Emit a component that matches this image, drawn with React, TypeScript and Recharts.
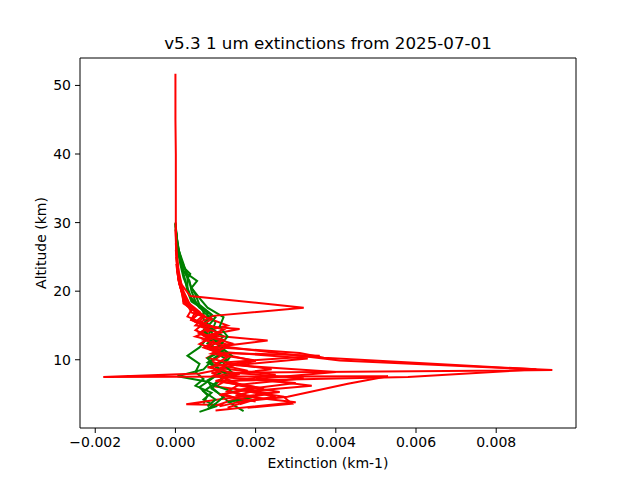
import { ReferenceLine, Scatter, ScatterChart, XAxis, YAxis } from "recharts";

const RED = "#ff0000";
const GREEN = "#008000";

// axis setup
const X_MIN = -0.00238;
const X_MAX = 0.00999;
const Y_MIN = 0.05;
const Y_MAX = 54.0;
const xTicks = [-0.002, 0, 0.002, 0.004, 0.006, 0.008];
const yTicks = [10, 20, 30, 40, 50];

// red profiles: altitude (km) / extinction (km-1)
const r1Alt = [51.7, 45, 40, 35, 30, 27, 25, 23, 21, 19.3, 17.6, 16.4, 15.4, 14.4, 13.4, 12.4, 11.4, 10.4, 9.4, 8.4, 7.4, 6.4, 5.4, 4.4, 3.5];
const r1Ext = [0, 0, 0.00001, 0.00001, 0.00001, 0.00002, 0.00004, 0.00008, 0.00015, 0.00037, 0.0032, 0.00094, 0.0006, 0.0012, 0.0008, 0.0014, 0.0009, 0.0013, 0.001, 0.0018, 0.0012, 0.0016, 0.0013, 0.0021, 0.0016];

const r2Alt = [30, 27, 24, 22, 20, 18.8, 17.6, 16.5, 15.5, 14.5, 13.5, 12.0, 9.9, 8.5, 8.1, 7.1, 6.1, 5.1, 4.1, 3.1];
const r2Ext = [0, 0.00002, 0.00005, 0.0001, 0.0002, 0.0003, 0.0004, 0.0007, 0.0005, 0.0009, 0.0007, 0.0011, 0.0041, 0.0094, 0.0009, 0.0013, 0.001, 0.0024, 0.0014, 0.0009];

const r3Alt = [29, 26, 23, 21, 19.5, 18.3, 17.2, 16.1, 15.0, 14.0, 13.0, 11.9, 11.0, 10.3, 8.6, 7.5, 6.9, 6.0, 5.0, 4.0, 3.2];
const r3Ext = [0, 0.00002, 0.00006, 0.00012, 0.0002, 0.0003, 0.0005, 0.0008, 0.0013, 0.0006, 0.001, 0.0008, 0.0031, 0.0037, 0.009, 0.0058, 0.0011, 0.0019, 0.0012, 0.0017, 0.0011];

const r4Alt = [27, 24, 21, 19, 17.8, 16.8, 15.8, 14.8, 13.8, 12.8, 11.8, 10.8, 9.8, 8.8, 8.0, 7.5, 7.6, 6.5, 4.6, 4.0, 3.0];
const r4Ext = [0.00001, 0.00004, 0.0001, 0.0002, 0.0003, 0.0006, 0.0004, 0.0008, 0.0006, 0.001, 0.0007, 0.0012, 0.0009, 0.0013, 0.0006, -0.0018, 0.0053, 0.0043, 0.0028, 0.0018, 0.0013];

const r5Alt = [25, 22, 20, 18.5, 17.3, 16.3, 15.3, 14.3, 13.3, 12.3, 11.3, 10.3, 9.3, 8.3, 7.3, 6.3, 5.3, 4.3, 3.5, 3.4];
const r5Ext = [0.00002, 0.00007, 0.00015, 0.0002, 0.0004, 0.0003, 0.0007, 0.0005, 0.0009, 0.0006, 0.0011, 0.0008, 0.0015, 0.001, 0.0032, 0.0015, 0.0026, 0.0012, 0.00027, 0.0012];

const r6Alt = [26, 23, 21, 19.8, 18.6, 17.4, 16.2, 15.0, 14.5, 13.6, 12.8, 11.8, 10.8, 9.8, 8.8, 7.8, 6.8, 5.8, 4.8, 3.8, 2.6];
const r6Ext = [0.00001, 0.00005, 0.00012, 0.0002, 0.0003, 0.0004, 0.0007, 0.0005, 0.0016, 0.0008, 0.0023, 0.0009, 0.0012, 0.002, 0.0011, 0.0025, 0.0013, 0.0022, 0.0015, 0.003, 0.001];

const r7Alt = [24, 21.5, 19.5, 18.2, 17.0, 15.9, 14.9, 13.9, 12.9, 11.9, 11.0, 10.6, 9.6, 8.6, 7.6, 6.6, 5.6, 4.6, 3.6, 3.0];
const r7Ext = [0.00002, 0.00008, 0.00018, 0.0002, 0.0005, 0.0004, 0.0009, 0.0006, 0.0012, 0.0008, 0.0011, 0.0036, 0.0012, 0.0024, 0.0009, 0.003, 0.0016, 0.0027, 0.0029, 0.0018];

const r8Alt = [23, 21, 19.5, 18.0, 16.9, 15.9, 14.9, 13.9, 12.9, 11.9, 10.9, 9.9, 8.9, 7.9, 6.9, 5.9, 4.9, 3.9];
const r8Ext = [0.00004, 0.0001, 0.0002, 0.0003, 0.0004, 0.0009, 0.0006, 0.0011, 0.0007, 0.0013, 0.0009, 0.002, 0.0008, 0.0016, 0.001, 0.0021, 0.0011, 0.002];

const r9Alt = [22, 20, 18.4, 17.0, 15.8, 14.6, 13.4, 12.2, 11.2, 10.2, 9.2, 8.2, 7.2, 6.2, 5.4, 4.6, 3.8];
const r9Ext = [0.00006, 0.00015, 0.0003, 0.0006, 0.0004, 0.001, 0.0005, 0.0013, 0.001, 0.0033, 0.0015, 0.004, 0.002, 0.0034, 0.0018, 0.0025, 0.0015];

// green profiles
const g1Alt = [29.5, 27, 25, 23, 21.5, 20, 18.5, 17, 15.5, 14, 12.5, 11, 10, 9, 8, 7, 6, 5, 4, 3.2, 2.5];
const g1Ext = [0.00001, 0.00004, 0.0001, 0.0002, 0.00035, 0.0004, 0.0005, 0.0007, 0.001, 0.0009, 0.0011, 0.001, 0.0013, 0.0009, 0.0011, 0.0008, 0.0009, 0.0011, 0.0013, 0.0015, 0.0017];

const g2Alt = [29.8, 27.5, 25.5, 23.5, 22.5, 21.8, 20.2, 18.8, 17.4, 16, 14.6, 13.2, 11.8, 10.6, 9.4, 8.2, 7.2, 6.2, 5.2, 4.2, 3.2, 2.4];
const g2Ext = [0, 0.00004, 0.0001, 0.0002, 0.00037, 0.0003, 0.0003, 0.0004, 0.0007, 0.0007, 0.0009, 0.0008, 0.0006, 0.0003, 0.0006, 0.0005, 0.0007, 0.0005, 0.0009, 0.0007, 0.001, 0.0006];

const g3Alt = [29, 26.5, 24.5, 22.5, 21.5, 20.5, 19.5, 18, 16.6, 15.2, 13.8, 12.4, 11, 9.8, 8.6, 7.6, 6.8, 6.0, 5.2, 4.5, 3.8];
const g3Ext = [0.00001, 0.00006, 0.00015, 0.0003, 0.00054, 0.0004, 0.0005, 0.0006, 0.0009, 0.0007, 0.0011, 0.0008, 0.0012, 0.0009, 0.0007, 0.00005, 0.0008, 0.0011, 0.0015, 0.0019, 0.0013];

const g4Alt = [30, 28, 26, 24, 22, 20.5, 19, 17.6, 16.2, 14.8, 13.4, 12, 10.8, 9.6, 8.4, 7.2, 6.0, 4.8, 3.6];
const g4Ext = [0, 0.00002, 0.00006, 0.00012, 0.0002, 0.0003, 0.0004, 0.0006, 0.001, 0.0008, 0.0012, 0.0009, 0.0011, 0.0008, 0.0012, 0.0009, 0.0006, 0.0008, 0.0007];

const g5Alt = [29, 27, 25, 23, 21.5, 20, 18.5, 17, 15.6, 14.2, 12.8, 11.4, 10.2, 9.0, 7.8, 6.6, 5.4, 4.2, 3.2];
const g5Ext = [0.00001, 0.00004, 0.0001, 0.00018, 0.00025, 0.0003, 0.0004, 0.0008, 0.0008, 0.0007, 0.001, 0.0012, 0.0008, 0.001, 0.0013, 0.001, 0.0007, 0.001, 0.0008];

const g6Alt = [28.5, 26, 24, 22, 20.5, 19, 17.6, 16.2, 14.8, 13.4, 12, 10.6, 9.4, 8.2, 7.0, 5.8, 4.6, 3.6, 2.8];
const g6Ext = [0.00002, 0.00008, 0.0002, 0.0003, 0.0004, 0.0006, 0.0008, 0.0012, 0.0011, 0.0013, 0.0011, 0.0014, 0.0012, 0.0014, 0.0011, 0.0009, 0.0012, 0.001, 0.0008];

const zip = (ext: number[], alt: number[]) => ext.map((x, i) => ({ x, y: alt[i] }));

// green and red interleaved, as the files were plotted
const profiles = [
  { color: GREEN, data: zip(g1Ext, g1Alt) },
  { color: RED, data: zip(r2Ext, r2Alt) },
  { color: GREEN, data: zip(g2Ext, g2Alt) },
  { color: RED, data: zip(r3Ext, r3Alt) },
  { color: RED, data: zip(r9Ext, r9Alt) },
  { color: GREEN, data: zip(g3Ext, g3Alt) },
  { color: RED, data: zip(r4Ext, r4Alt) },
  { color: GREEN, data: zip(g4Ext, g4Alt) },
  { color: RED, data: zip(r5Ext, r5Alt) },
  { color: GREEN, data: zip(g5Ext, g5Alt) },
  { color: RED, data: zip(r6Ext, r6Alt) },
  { color: GREEN, data: zip(g6Ext, g6Alt) },
  { color: RED, data: zip(r7Ext, r7Alt) },
  { color: RED, data: zip(r8Ext, r8Alt) },
  { color: RED, data: zip(r1Ext, r1Alt) },
];

const FONT = "DejaVu Sans";
const tickStyle = { fill: "#000", fontSize: 14, fontFamily: FONT };
const fmtX = (v: number) => v.toFixed(3).replace("-", "\u2212");

const NoDot = () => <g />;

export default function App() {
  return (
    <div style={{ position: "absolute", left: 0, top: 0, width: 640, height: 480, background: "#fff" }}>
      <ScatterChart width={640} height={480} margin={{ top: 58, right: 64, bottom: 0, left: 0 }}>
        <XAxis
          type="number"
          dataKey="x"
          domain={[X_MIN, X_MAX]}
          ticks={xTicks}
          tickFormatter={fmtX}
          allowDataOverflow
          height={52}
          tick={tickStyle}
          tickSize={5}
          tickMargin={4}
          stroke="#000"
          tickLine={{ stroke: "#000" }}
        />
        <YAxis
          type="number"
          dataKey="y"
          domain={[Y_MIN, Y_MAX]}
          ticks={yTicks}
          allowDataOverflow
          width={80}
          tick={tickStyle}
          tickSize={5}
          tickMargin={4}
          stroke="#000"
          tickLine={{ stroke: "#000" }}
        />
        {profiles.map((p, i) => (
          <Scatter
            key={i}
            data={p.data}
            fill={p.color}
            line={{ stroke: p.color, strokeWidth: 2 }}
            shape={NoDot}
            legendType="none"
            isAnimationActive={false}
          />
        ))}
        <ReferenceLine x={X_MAX} stroke="#000" />
        <ReferenceLine y={Y_MAX} stroke="#000" />
      </ScatterChart>
      <svg width={640} height={480} style={{ position: "absolute", left: 0, top: 0, pointerEvents: "none" }}>
        <text x={328} y={49} textAnchor="middle" fontFamily={FONT} fontSize={16.7} fill="#000">
          v5.3 1 um extinctions from 2025-07-01
        </text>
        <text x={328} y={468} textAnchor="middle" fontFamily={FONT} fontSize={14} fill="#000">
          Extinction (km-1)
        </text>
        <text x={46} y={243} transform="rotate(-90 46 243)" textAnchor="middle" fontFamily={FONT} fontSize={14} fill="#000">
          Altitude (km)
        </text>
      </svg>
    </div>
  );
}
